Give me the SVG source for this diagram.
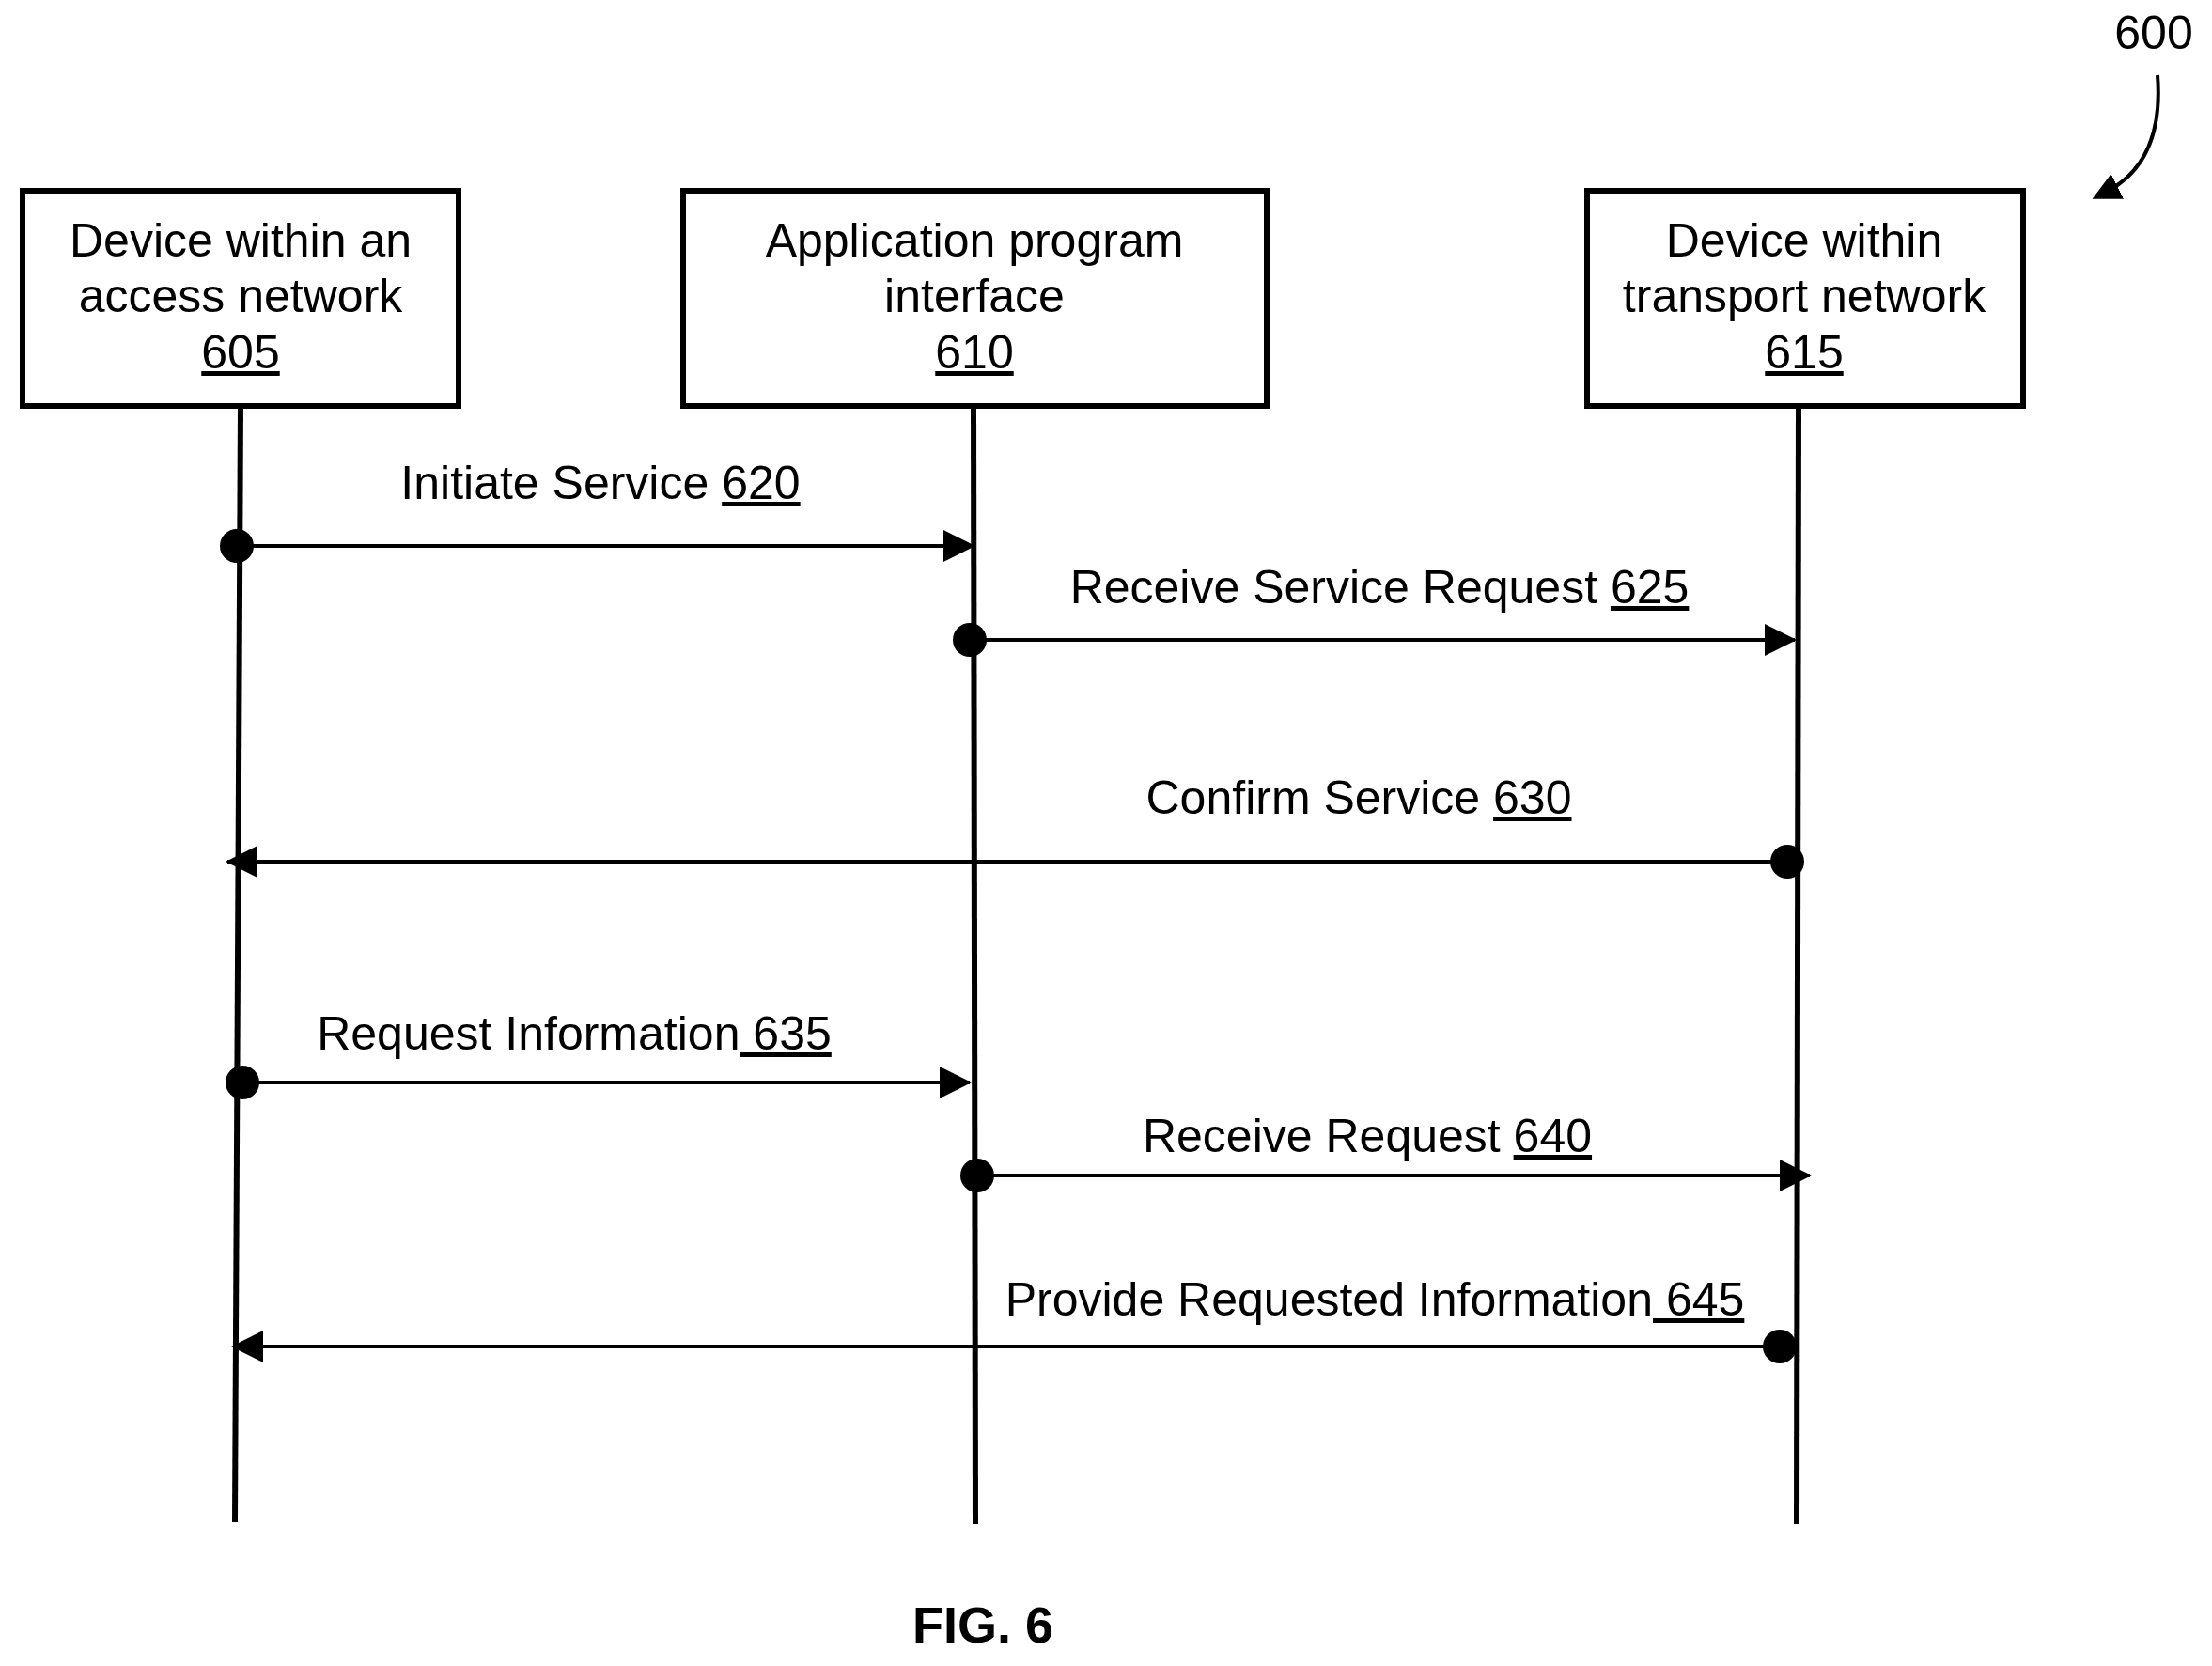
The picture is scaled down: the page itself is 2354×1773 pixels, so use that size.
<svg xmlns="http://www.w3.org/2000/svg" width="2354" height="1773" viewBox="0 0 2354 1773">
<style>
text{font-family:"Liberation Sans",Arial,sans-serif;font-size:50px;fill:#000}
.u{text-decoration:underline}
.box{fill:#fff;stroke:#000;stroke-width:6}
.life{stroke:#000;stroke-width:6;fill:none}
.msg{stroke:#000;stroke-width:4;fill:none;marker-end:url(#ah)}
</style>
<defs>
<marker id="ah" markerWidth="34" markerHeight="34" refX="32" refY="17" orient="auto" markerUnits="userSpaceOnUse" viewBox="0 0 34 34">
<path d="M0,0 L34,17 L0,34 Z" fill="#000"/>
</marker>
<marker id="ah2" markerWidth="30" markerHeight="30" refX="15" refY="15" orient="auto" markerUnits="userSpaceOnUse" viewBox="0 0 30 30"><path d="M0,0 L30,15 L0,30 Z" fill="#000"/></marker>
</defs>
<g id="n605"><rect class="box" x="24" y="203" width="464" height="229"/>
<text x="256" y="273" text-anchor="middle">Device within an</text>
<text x="256" y="332" text-anchor="middle">access network</text>
<text x="256" y="392" text-anchor="middle" class="u">605</text></g>
<g id="n610"><rect class="box" x="727" y="203" width="621" height="229"/>
<text x="1037" y="273" text-anchor="middle">Application program</text>
<text x="1037" y="332" text-anchor="middle">interface</text>
<text x="1037" y="392" text-anchor="middle" class="u">610</text></g>
<g id="n615"><rect class="box" x="1689" y="203" width="464" height="229"/>
<text x="1920" y="273" text-anchor="middle">Device within</text>
<text x="1920" y="332" text-anchor="middle">transport network</text>
<text x="1920" y="392" text-anchor="middle" class="u">615</text></g>
<g id="connectors">
<path class="life" d="M256 432 L250 1620"/>
<path class="life" d="M1036 432 L1038 1622"/>
<path class="life" d="M1914 432 L1912 1622"/>
<g fill="#000">
<circle cx="252" cy="581" r="18"/><circle cx="1032" cy="681" r="18"/><circle cx="1902" cy="917" r="18"/>
<circle cx="258" cy="1152" r="18"/><circle cx="1040" cy="1251" r="18"/><circle cx="1894" cy="1433" r="18"/>
</g>
<path class="msg" d="M252 581 H1036"/>
<path class="msg" d="M1032 681 H1910"/>
<path class="msg" d="M1902 917 H242"/>
<path class="msg" d="M258 1152 H1032"/>
<path class="msg" d="M1040 1251 H1926"/>
<path class="msg" d="M1894 1433 H248"/>
<path d="M2296 80 C2300 130 2290 180 2240 205" stroke="#000" stroke-width="4" fill="none" marker-end="url(#ah2)"/>
</g>
<text x="639" y="531" text-anchor="middle">Initiate Service <tspan class="u">620</tspan></text>
<text x="1468" y="642" text-anchor="middle">Receive Service Request <tspan class="u">625</tspan></text>
<text x="1446" y="866" text-anchor="middle">Confirm Service <tspan class="u">630</tspan></text>
<text x="611" y="1117" text-anchor="middle">Request Information<tspan class="u"> 635</tspan></text>
<text x="1455" y="1226" text-anchor="middle">Receive Request <tspan class="u">640</tspan></text>
<text x="1463" y="1400" text-anchor="middle">Provide Requested Information<tspan class="u"> 645</tspan></text>
<text x="2292" y="52" text-anchor="middle">600</text>
<text x="1046" y="1748" text-anchor="middle" font-weight="bold" style="font-size:54px">FIG. 6</text>
</svg>
